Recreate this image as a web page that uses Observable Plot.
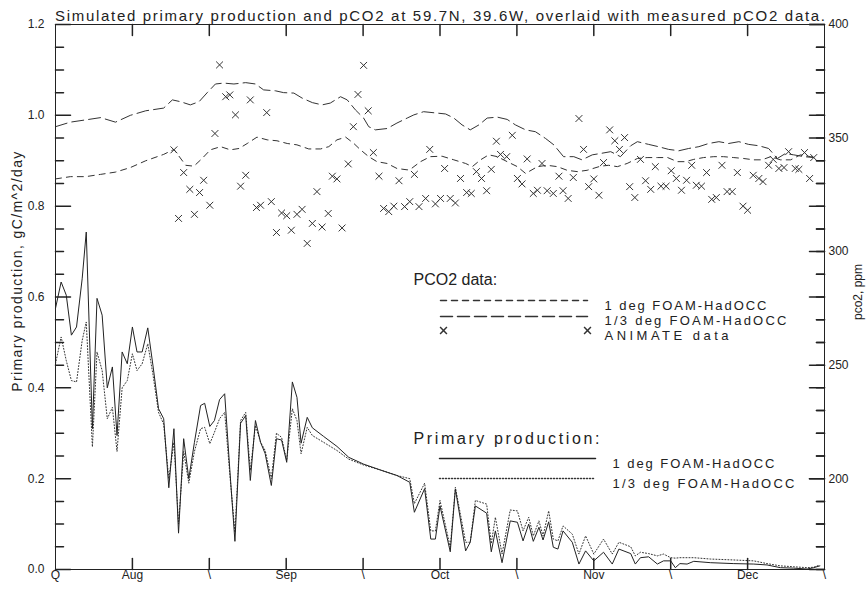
<!DOCTYPE html>
<html>
<head>
<meta charset="utf-8">
<script src="https://cdn.jsdelivr.net/npm/d3@7"></script>
<script src="https://cdn.jsdelivr.net/npm/@observablehq/plot@0.6"></script>
<style>
  body { margin: 0; background: #fff; }
  #chart svg { display: block; }
</style>
</head>
<body>
<div id="chart"></div>
<script>
// ---- Primary production (gC/m^2/day), day index from start of x axis ----
const ppDay = [0,1.1,2.1,3.1,4.1,5.2,6.0,7.2,8.1,9.1,10.1,11.1,12.0,13.0,14.0,15.0,15.9,16.9,18.0,19.0,
  20.1,21.1,22.1,23.1,24.0,25.0,26.0,27.1,28.3,29.1,30.1,31.0,32.0,33.0,34.0,35.0,36.1,37.1,38.0,39.0,
  40.0,40.9,42.1,43.1,44.1,45.1,46.2,47.1,47.9,49.1,50.1,52.3,54.9,57.2,60.1,63.4,66.6,69.1,70.0,72.0,
  73.2,74.1,75.0,77.0,78.0,80.0,80.9,81.9,84.1,85.0,85.8,87.1,88.7,90.1,91.2,92.3,93.2,94.3,95.1,96.2,
  97.1,98.0,99.0,100.8,102.1,103.4,105.0,106.9,108.6,109.9,112.2,113.1,114.1,115.7,117.4,118.6,120.0,120.9,121.8,123.2,
  124.5,127.8,132.3,136.2,138.8,141.4,144.0,146.6,147.9,149.1];
const ppOneDeg = [0.575,0.633,0.604,0.516,0.534,0.64,0.743,0.31,0.597,0.56,0.40,0.446,0.295,0.479,0.453,0.534,0.479,0.479,0.532,0.45,
  0.354,0.332,0.18,0.31,0.08,0.288,0.20,0.28,0.361,0.366,0.315,0.328,0.374,0.387,0.22,0.062,0.322,0.339,0.196,0.328,
  0.28,0.255,0.185,0.288,0.285,0.236,0.413,0.379,0.278,0.335,0.312,0.293,0.271,0.247,0.232,0.219,0.207,0.192,0.126,0.178,
  0.067,0.067,0.14,0.039,0.177,0.041,0.06,0.14,0.124,0.039,0.085,0.015,0.107,0.104,0.063,0.1,0.062,0.093,0.065,0.105,
  0.049,0.045,0.085,0.06,0.012,0.041,0.019,0.038,0.012,0.045,0.035,0.012,0.026,0.028,0.012,0.019,0.019,0.004,0.013,0.012,
  0.018,0.015,0.013,0.012,0.01,0.004,0.003,0.001,0.004,0.008];
const ppThirdDeg = [0.453,0.512,0.46,0.416,0.413,0.504,0.545,0.27,0.479,0.438,0.332,0.357,0.26,0.40,0.416,0.475,0.438,0.453,0.497,0.43,
  0.346,0.32,0.2,0.28,0.1,0.26,0.19,0.26,0.31,0.313,0.277,0.302,0.332,0.346,0.21,0.082,0.328,0.346,0.218,0.317,
  0.28,0.262,0.2,0.30,0.291,0.24,0.354,0.328,0.255,0.313,0.295,0.28,0.262,0.243,0.23,0.219,0.207,0.2,0.145,0.19,
  0.085,0.085,0.152,0.049,0.181,0.06,0.06,0.152,0.144,0.057,0.115,0.034,0.131,0.129,0.085,0.115,0.074,0.107,0.074,0.129,
  0.067,0.063,0.096,0.078,0.034,0.074,0.034,0.067,0.034,0.06,0.05,0.03,0.038,0.035,0.03,0.034,0.026,0.025,0.026,0.026,
  0.026,0.023,0.021,0.019,0.013,0.008,0.006,0.004,0.005,0.01];

// ---- Simulated pCO2 (ppm) ----
const pco2ThirdDay = [0,2.9,5.9,8.8,11.7,14.6,17.6,21.1,22.8,24.4,26.3,28.0,29.6,31.2,32.8,34.8,37.1,39.0,40.6,42.9,
  44.5,46.5,48.1,50.1,52.0,53.6,55.6,56.9,58.5,60.1,61.1,62.4,64.7,66.6,68.6,69.9,71.8,74.4,76.1,77.7,
  79.3,80.9,82.6,84.2,86.2,88.1,89.7,91.7,93.6,95.6,97.2,99.1,101.1,102.7,104.7,106.3,108.3,110.2,112.2,113.5,
  115.7,117.6,119.6,121.6,123.5,125.5,127.4,129.4,131.3,133.3,135.2,137.2,139.1,140.8,142.4,144.0,146.0,147.9];
const pco2ThirdDeg = [355,357,358,359,357,360,362,363.2,366.8,366,364.6,366,370,373.8,374.2,373.8,374.4,373.8,371.2,370.8,
  370,369.8,367.6,365.6,364.6,365.4,368.2,366.8,362.4,358.8,355,353.6,354.2,356.6,358.8,360.2,361.6,361,360.6,358.8,
  355.8,353.6,355.8,358.8,359.2,358.2,355.8,353.6,352.8,349.8,347,341.8,341.8,340.4,342.6,343.2,344,341.8,346.6,348.4,
  347.2,346.2,345,344.4,345.4,346.2,347.6,348.4,347.6,348.4,347.2,346.6,345.4,341,343.2,342.6,341.8,341.4];
const pco2OneDay = [0,2.9,5.9,8.8,11.7,14.6,17.6,21.1,23.1,25.4,27.0,28.6,30.2,32.2,34.1,35.8,37.4,39.3,41.3,43.2,
  45.2,47.1,49.4,51.7,53.3,54.9,56.6,58.2,59.5,61.1,62.7,64.7,66.6,68.6,69.2,71.2,73.1,75.4,77.7,80.0,
  81.3,82.9,84.5,86.2,88.1,90.1,91.7,94.0,95.9,97.9,99.8,101.8,103.7,106.3,107.9,109.6,111.5,113.5,115.4,117.4,
  119.4,121.3,122.9,124.5,126.4,128.4,130.3,132.3,134.2,136.2,137.8,139.5,141.4,143.4,145.3,147.3,148.6];
const pco2OneDeg = [332,333,333,334,335,337,340,342.8,345,338,337.6,341,344.8,346.2,344.8,345.4,347.6,350.4,349.2,348.8,
  347.6,347,345.2,345.2,346.2,349.2,350.4,347.6,344.8,341.8,339.6,338.8,336.6,336,336.2,339.6,341.8,342,340.4,338.8,
  337.4,340.4,342.6,341.8,339.6,337.4,334.4,337.4,338,337.4,335.8,335.2,335.8,337.6,338,337.4,338.8,341,341.4,341.4,
  341.4,339.6,339.6,340.6,341.4,341.8,341.8,341.4,341,340.4,340.4,341.8,340.4,340.4,342.6,341.8,341.4];

// ---- Measured pCO2 (ANIMATE data, ppm) ----
const animateDay = [23.1,24.0,25.0,26.2,27.1,28.1,28.9,30.1,31.1,32.0,33.2,34.0,35.1,36.1,37.1,38.0,39.2,40.0,41.2,42.1,
  43.1,44.1,45.1,46.0,47.1,48.1,49.1,50.1,51.0,52.0,53.2,54.0,54.9,55.9,57.1,58.1,59.0,60.1,61.0,62.0,
  63.1,64.0,65.0,66.0,67.0,68.1,69.1,70.0,70.9,72.2,73.0,74.1,75.1,75.9,77.0,78.0,79.0,80.2,81.1,82.1,
  83.1,84.1,85.0,86.0,86.8,88.0,89.1,90.1,91.0,92.0,93.2,94.0,94.9,95.9,97.1,98.2,99.0,100.0,101.0,102.1,
  103.0,104.0,105.0,106.0,106.9,108.1,109.1,110.0,111.0,112.0,113.0,114.1,115.1,116.1,117.0,118.1,119.1,120.1,121.1,122.1,
  123.1,124.1,125.0,126.0,127.0,128.0,128.9,130.0,131.0,132.0,133.0,134.1,135.0,136.1,137.2,138.0,139.1,140.0,141.1,142.1,
  143.0,144.3,145.0,146.1,147.1,147.9];
const animatePpm = [344.8,314.6,334.8,327.4,316.4,326,331.4,320.4,352,382.2,368.2,369,360.2,328.8,333.6,366.8,319.4,320.4,361.2,322,
  308.4,317,315.8,309.4,316.4,318.6,303.6,312.4,326.4,310.8,316.8,333.2,332,310.4,338.6,355,369.2,382,362,343.6,
  333.2,319,317.6,320,331.2,319.8,322,334,319.8,323.4,345,321,323.4,336.6,323.4,321.4,332.2,326,325.6,335.2,
  332.2,326.8,336.2,348.6,342.8,341.8,351.2,332.2,329.8,340.8,325.6,327,338.8,326.8,325.6,333.2,326.8,323.4,332.6,358.6,
  345,328.6,332,324.8,339.2,353.6,348.8,345,350.2,328.6,323.8,340.6,331.2,327.4,337.4,328.8,328.8,335.6,332.2,327,
  331.4,338,329.2,328.8,334.8,323,323.8,338,326.4,326.4,334.8,320,318.2,333.6,332.2,330.8,338,340.6,336.6,337,
  344,336.6,336.2,343.6,332.2,341.4];

// ---- Axis ticks and labels ----
const xTickDays = [0,15,30,45,60,75,90,105,120,135,150];
const xTickLabels = ["Q","Aug","\\","Sep","\\","Oct","\\","Nov","\\","Dec","\\"];
const ppTicks = [0,0.2,0.4,0.6,0.8,1.0,1.2];
const ppMinorTicks = d3.range(0, 1.2001, 0.05).filter(v => Math.abs(v * 5 - Math.round(v * 5)) > 1e-6);
const ppmTicks = [200,250,300,350,400];
const ppmMinorTicks = d3.range(160, 401, 10).filter(v => v % 50 !== 0);

const titleText = "Simulated primary production and pCO2 at 59.7N, 39.6W, overlaid with measured pCO2 data.";
const yLabelLeft = "Primary production, gC/m^2/day";
const yLabelRight = "pco2, ppm";

// right axis (ppm 160..400) shares the left axis frame (0..1.2)
const ppmToLeft = ppm => (ppm - 160) / 200;

const pp = ppDay.map((d, i) => ({day: d, one: ppOneDeg[i], third: ppThirdDeg[i]}));
const pcThird = pco2ThirdDay.map((d, i) => ({day: d, ppm: pco2ThirdDeg[i]}));
const pcOne = pco2OneDay.map((d, i) => ({day: d, ppm: pco2OneDeg[i]}));
const animate = animateDay.map((d, i) => ({day: d, ppm: animatePpm[i]}));

const ink = "#222";
const tick = {draw(context, l) { context.moveTo(0, 0); context.lineTo(0, -l); }};
const font = "'Liberation Sans', Arial, sans-serif";

const chart = Plot.plot({
  width: 868,
  height: 591,
  marginLeft: 55,
  marginRight: 44,
  marginTop: 24,
  marginBottom: 22,
  style: {background: "#fff", fontFamily: font, color: ink},
  x: {domain: [0, 150], axis: null},
  y: {domain: [0, 1.2], axis: null},
  marks: [
    // data
    Plot.line(pcThird, {x: "day", y: d => ppmToLeft(d.ppm), stroke: "#333", strokeWidth: 1, strokeDasharray: "12,5"}),
    Plot.line(pcOne, {x: "day", y: d => ppmToLeft(d.ppm), stroke: "#333", strokeWidth: 1, strokeDasharray: "6,5"}),
    Plot.dot(animate, {x: "day", y: d => ppmToLeft(d.ppm), symbol: "times", r: 3.2, stroke: "#333", strokeWidth: 1}),
    Plot.line(pp, {x: "day", y: "third", stroke: "#333", strokeWidth: 1, strokeDasharray: "1,2"}),
    Plot.line(pp, {x: "day", y: "one", stroke: ink, strokeWidth: 1}),

    // frame
    Plot.frame({stroke: ink}),

    // x ticks (bottom and top, pointing inward)
    Plot.vector(xTickDays.slice(1, -1), {x: d => d, frameAnchor: "bottom", rotate: 0, length: 11, anchor: "start", shape: tick, stroke: ink}),
    Plot.vector(xTickDays.slice(1, -1), {x: d => d, frameAnchor: "top", rotate: 180, length: 11, anchor: "start", shape: tick, stroke: ink}),
    Plot.text(xTickDays, {x: d => d, frameAnchor: "bottom", dy: 9, text: (d, i) => xTickLabels[i], fontSize: 12}),

    // left axis ticks + mirrored on right
    Plot.vector(ppTicks, {y: d => d, frameAnchor: "left", rotate: 90, length: 15, anchor: "start", shape: tick, stroke: ink}),
    Plot.vector(ppMinorTicks, {y: d => d, frameAnchor: "left", rotate: 90, length: 8, anchor: "start", shape: tick, stroke: ink}),
    Plot.vector(ppTicks, {y: d => d, frameAnchor: "right", rotate: -90, length: 15, anchor: "start", shape: tick, stroke: ink}),
    Plot.vector(ppMinorTicks, {y: d => d, frameAnchor: "right", rotate: -90, length: 8, anchor: "start", shape: tick, stroke: ink}),
    Plot.text(ppTicks, {y: d => d, frameAnchor: "left", dx: -11, textAnchor: "end", text: d => d.toFixed(1), fontSize: 12}),

    // right axis (pCO2, ppm)
    Plot.vector(ppmTicks, {y: d => ppmToLeft(d), frameAnchor: "right", rotate: -90, length: 15, anchor: "start", shape: tick, stroke: ink}),
    Plot.vector(ppmMinorTicks, {y: d => ppmToLeft(d), frameAnchor: "right", rotate: -90, length: 8, anchor: "start", shape: tick, stroke: ink}),
    Plot.text(ppmTicks, {y: d => ppmToLeft(d), frameAnchor: "right", dx: 4, textAnchor: "start", text: d => String(d), fontSize: 12}),

    // axis titles
    Plot.text([yLabelLeft], {frameAnchor: "left", dx: -38, dy: -26, rotate: -90, textAnchor: "middle", text: d => d, fontSize: 14}),
    Plot.text([yLabelRight], {frameAnchor: "right", dx: 34, dy: -5, rotate: -90, textAnchor: "middle", text: d => d, fontSize: 12}),

    // title
    Plot.text([titleText], {frameAnchor: "top", dy: -14, textAnchor: "middle", text: d => d, fontSize: 15}),

    // legend: pCO2
    Plot.text(["PCO2 data:"], {frameAnchor: "top-left", dx: 358, dy: 249, textAnchor: "start", text: d => d, fontSize: 16}),
    Plot.vector([0], {frameAnchor: "top-left", dx: 385, dy: 276, rotate: 90, length: 147, anchor: "start", shape: tick, stroke: "#333", strokeDasharray: "6,5"}),
    Plot.vector([0], {frameAnchor: "top-left", dx: 385, dy: 292, rotate: 90, length: 147, anchor: "start", shape: tick, stroke: "#333", strokeDasharray: "12,5"}),
    Plot.dot([0], {frameAnchor: "top-left", dx: 388, dy: 306, symbol: "times", r: 3.2, stroke: "#333"}),
    Plot.dot([0], {frameAnchor: "top-left", dx: 532, dy: 306, symbol: "times", r: 3.2, stroke: "#333"}),
    Plot.text(["1 deg FOAM-HadOCC"], {frameAnchor: "top-left", dx: 549, dy: 276, textAnchor: "start", text: d => d, fontSize: 13}),
    Plot.text(["1/3 deg FOAM-HadOCC"], {frameAnchor: "top-left", dx: 549, dy: 291, textAnchor: "start", text: d => d, fontSize: 13}),
    Plot.text(["ANIMATE data"], {frameAnchor: "top-left", dx: 549, dy: 306, textAnchor: "start", text: d => d, fontSize: 13}),

    // legend: primary production
    Plot.text(["Primary production:"], {frameAnchor: "top-left", dx: 358, dy: 408, textAnchor: "start", text: d => d, fontSize: 16}),
    Plot.vector([0], {frameAnchor: "top-left", dx: 384, dy: 434, rotate: 90, length: 156, anchor: "start", shape: tick, stroke: ink}),
    Plot.vector([0], {frameAnchor: "top-left", dx: 384, dy: 454, rotate: 90, length: 156, anchor: "start", shape: tick, stroke: "#333", strokeDasharray: "1,2"}),
    Plot.text(["1 deg FOAM-HadOCC"], {frameAnchor: "top-left", dx: 557, dy: 434, textAnchor: "start", text: d => d, fontSize: 13}),
    Plot.text(["1/3 deg FOAM-HadOCC"], {frameAnchor: "top-left", dx: 557, dy: 454, textAnchor: "start", text: d => d, fontSize: 13})
  ]
});

document.getElementById("chart").appendChild(chart);

// stretch the vector-font-like texts to the reference widths
const fitWidths = new Map([
  [titleText, 770],
  ["Primary production:", 186],
  ["1 deg FOAM-HadOCC", 162],
  ["1/3 deg FOAM-HadOCC", 182],
  ["ANIMATE data", 124]
]);
d3.select(chart).selectAll("text").each(function () {
  const w = fitWidths.get(this.textContent);
  if (w) {
    this.setAttribute("textLength", w);
    this.setAttribute("lengthAdjust", "spacing");
  }
  if (this.textContent === yLabelLeft) this.setAttribute("letter-spacing", "1.4px");
});
</script>
</body>
</html>
